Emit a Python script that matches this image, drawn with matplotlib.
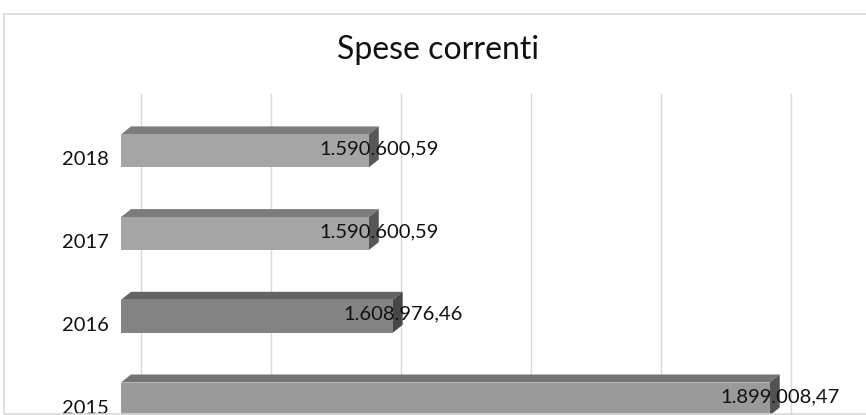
import matplotlib
matplotlib.use('Agg')
import matplotlib.pyplot as plt
import matplotlib.transforms as mtransforms
from matplotlib.patches import Polygon, Rectangle

plt.rcParams['font.family'] = ['Lato', 'DejaVu Sans']

# data
years = ['2015', '2016', '2017', '2018']
values = [1899008.47, 1608976.46, 1590600.59, 1590600.59]
labels = ['1.899.008,47', '1.608.976,46', '1.590.600,59', '1.590.600,59']
front_cols = ['#9a9a9a', '#838383', '#a5a5a5', '#a5a5a5']
top_cols = ['#747474', '#646464', '#7c7c7c', '#7c7c7c']
side_cols = ['#525252', '#474747', '#575757', '#575757']
grid_vals = [1400000, 1500000, 1600000, 1700000, 1800000, 1900000, 2000000]
xmin, xmax = 1400000, 2000000

W, H = 866, 415
fig = plt.figure(figsize=(W / 100, H / 100), dpi=100)

# chart border (cropped on the right)
fig.patches.append(Rectangle((4 / W, (H - 413.5) / H), 2, (413.5 - 14) / H,
                             transform=fig.transFigure, fill=False,
                             edgecolor='#d9d9d9', lw=1.2))

# axes placed in pixels: front face x = xmin at 121px, 130px per 100k
ax_left = 121
ax_w = (xmax - xmin) * 0.0013
ax_bot = 16 - 0.5 * 82.7
ax_h = 4 * 82.7
ax = fig.add_axes([ax_left / W, ax_bot / H, ax_w / W, ax_h / H])
ax.set_xlim(xmin, xmax)
ax.set_ylim(-0.5, 3.5)
ax.axis('off')

# 3d depth offsets
dx, dy = 10, 8
half = 0.5 * 33 / 82.7
depth = mtransforms.ScaledTranslation(dx / 100, dy / 100, fig.dpi_scale_trans)
wall = mtransforms.ScaledTranslation(2 * dx / 100, 2 * dy / 100, fig.dpi_scale_trans)

for g in grid_vals:
    ax.plot([g, g], [-0.75, 3.5], color='#d9d9d9', lw=1, zorder=0,
            transform=ax.transData + wall, clip_on=False)

for i, (v, fc, tc, sc) in enumerate(zip(values, front_cols, top_cols, side_cols)):
    y0, y1 = i - half, i + half
    front = Rectangle((xmin, y0), v - xmin, y1 - y0, facecolor=fc,
                      edgecolor='none', zorder=3, clip_on=False)
    ax.add_patch(front)
    # top face
    top = Polygon([ax.transData.transform((xmin, y1)),
                   ax.transData.transform((v, y1)),
                   (ax.transData + depth).transform((v, y1)),
                   (ax.transData + depth).transform((xmin, y1))],
                  closed=True, facecolor=tc, edgecolor='none', zorder=2,
                  clip_on=False, transform=mtransforms.IdentityTransform())
    ax.add_patch(top)
    # side face
    side = Polygon([ax.transData.transform((v, y0)),
                    ax.transData.transform((v, y1)),
                    (ax.transData + depth).transform((v, y1)),
                    (ax.transData + depth).transform((v, y0))],
                   closed=True, facecolor=sc, edgecolor='none', zorder=2,
                   clip_on=False, transform=mtransforms.IdentityTransform())
    ax.add_patch(side)
    ax.text(v, i - 0.07, labels[i], ha='center', va='center', fontsize=14.5,
            color='#111111', zorder=5, transform=ax.transData + depth,
            clip_on=False)
    ax.text(xmin, i - 0.11, years[i], ha='right', va='center', fontsize=14.5,
            color='#111111', transform=ax.transData + mtransforms.ScaledTranslation(
                -12 / 100, 0, fig.dpi_scale_trans), clip_on=False)

fig.text(438 / W, 1 - 50 / H, 'Spese correnti', ha='center', va='center',
         fontsize=23, color='#111111')

fig.savefig('out.png', dpi=100)
